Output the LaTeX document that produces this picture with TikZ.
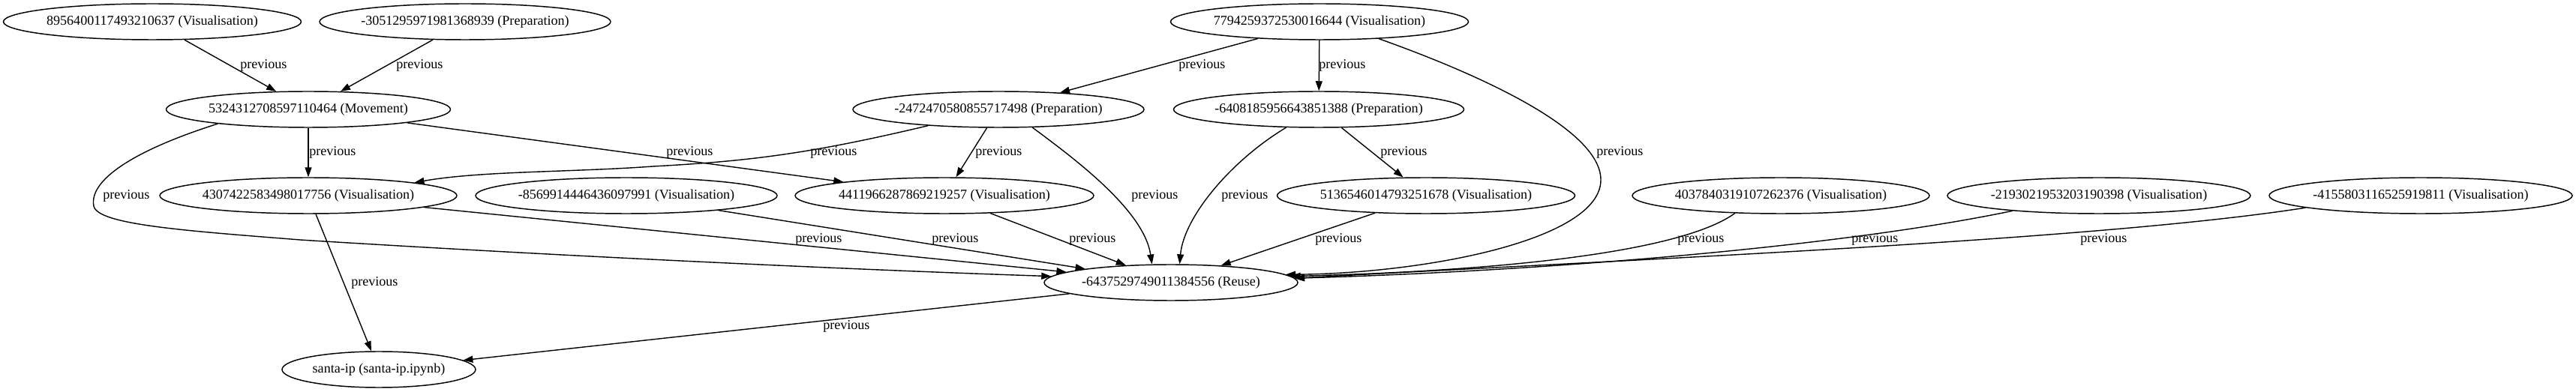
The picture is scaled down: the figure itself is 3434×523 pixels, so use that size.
\documentclass[tikz,border=0pt]{standalone}
\usepackage{fontspec}
\setmainfont{Liberation Serif}
\usetikzlibrary{arrows.meta,shapes.geometric}
\begin{document}
\begin{tikzpicture}[x=0.75pt,y=-0.75pt,
  every node/.style={font=\fontsize{13.55}{16}\selectfont},
  nd/.style={draw,ellipse,line width=1.1pt,inner ysep=0pt,inner xsep=-2.5pt,minimum height=36pt},
  lbl/.style={anchor=west,inner sep=0pt},
  conn/.style={draw,line width=1.05pt,-{Triangle[length=9.75pt,width=6.75pt]}}]
\useasboundingbox (0,0) rectangle (3434,523);
% nodes
\node[nd,minimum width=297.75pt] (A) at (203,29) {8956400117493210637 (Visualisation)};
\node[nd,minimum width=291pt] (B) at (620,29) {-3051295971981368939 (Preparation)};
\node[nd,minimum width=297.75pt] (C) at (1759,29) {7794259372530016644 (Visualisation)};
\node[nd,minimum width=284.25pt] (D) at (411,146) {5324312708597110464 (Movement)};
\node[nd,minimum width=291pt] (E) at (1331,146) {-2472470580855717498 (Preparation)};
\node[nd,minimum width=290.25pt] (F) at (1758,146) {-6408185956643851388 (Preparation)};
\node[nd,minimum width=297pt] (G) at (411,261) {4307422583498017756 (Visualisation)};
\node[nd,minimum width=301.5pt] (H) at (835,261) {-8569914446436097991 (Visualisation)};
\node[nd,minimum width=298.5pt] (I) at (1259,261) {4411966287869219257 (Visualisation)};
\node[nd,minimum width=297.75pt] (J) at (1901,261) {5136546014793251678 (Visualisation)};
\node[nd,minimum width=297pt] (K) at (2374,261) {4037840319107262376 (Visualisation)};
\node[nd,minimum width=303pt] (L) at (2798,261) {-2193021953203190398 (Visualisation)};
\node[nd,minimum width=303pt] (M) at (3227,261) {-4155803116525919811 (Visualisation)};
\node[nd,minimum width=253.5pt] (N) at (1561,377) {-6437529749011384556 (Reuse)};
\node[nd,minimum width=193.5pt] (O) at (505,493) {santa-ip (santa-ip.ipynb)};
% edges
\draw[conn] (A) -- (D);
\draw[conn] (B) -- (D);
\draw[conn] (C) -- (E);
\draw[conn] (C) -- (F);
\draw[conn] (C.344) .. controls (1960,95) and (2134,170) .. (2134,240) .. controls (2134,320) and (1900,365) .. (N.4);
\draw[conn] (D) -- (G);
\draw[conn] (D) -- (I);
\draw[conn] (D.189) .. controls (180,200) and (118,240) .. (125,275) .. controls (130,300) and (250,308) .. (400,320) .. controls (800,345) and (1200,362) .. (N.177);
\draw[conn] (E.193) .. controls (1080,205) and (1000,215) .. (870,222) .. controls (760,230) and (640,228) .. (G.7);
\draw[conn] (E) -- (I);
\draw[conn] (E.332) .. controls (1430,210) and (1525,280) .. (N.136);
\draw[conn] (F.209) .. controls (1640,215) and (1578,290) .. (N.65);
\draw[conn] (F) -- (J);
\draw[conn] (G) -- (N);
\draw[conn] (G) -- (O);
\draw[conn] (H) -- (N);
\draw[conn] (I) -- (N);
\draw[conn] (J) -- (N);
\draw[conn] (K.201) .. controls (2250,330) and (2050,360) .. (N.3);
\draw[conn] (L.190) .. controls (2450,330) and (2050,362) .. (N.2);
\draw[conn] (M.186) .. controls (2800,320) and (2200,345) .. (N.2);
\draw[conn] (N) -- (O);
% labels
\node[lbl] (l1) at (320,87) {previous};
\node[lbl] (l2) at (528,87) {previous};
\node[lbl] (l3) at (1571,87) {previous};
\node[lbl] (l4) at (1758,87) {previous};
\node[lbl] (l5) at (2128,203) {previous};
\node[lbl] (l6) at (412,203) {previous};
\node[lbl] (l7) at (888,203) {previous};
\node[lbl] (l8) at (137,261) {previous};
\node[lbl] (l9) at (1080,203) {previous};
\node[lbl] (l10) at (1300,203) {previous};
\node[lbl] (l11) at (1508,261) {previous};
\node[lbl] (l12) at (1628,261) {previous};
\node[lbl] (l13) at (1840,203) {previous};
\node[lbl] (l14) at (1060,319) {previous};
\node[lbl] (l15) at (468,377) {previous};
\node[lbl] (l16) at (1242,319) {previous};
\node[lbl] (l17) at (1425,319) {previous};
\node[lbl] (l18) at (1753,319) {previous};
\node[lbl] (l19) at (2236,319) {previous};
\node[lbl] (l20) at (2468,319) {previous};
\node[lbl] (l21) at (2773,319) {previous};
\node[lbl] (l22) at (1097,435) {previous};
\end{tikzpicture}
\end{document}
